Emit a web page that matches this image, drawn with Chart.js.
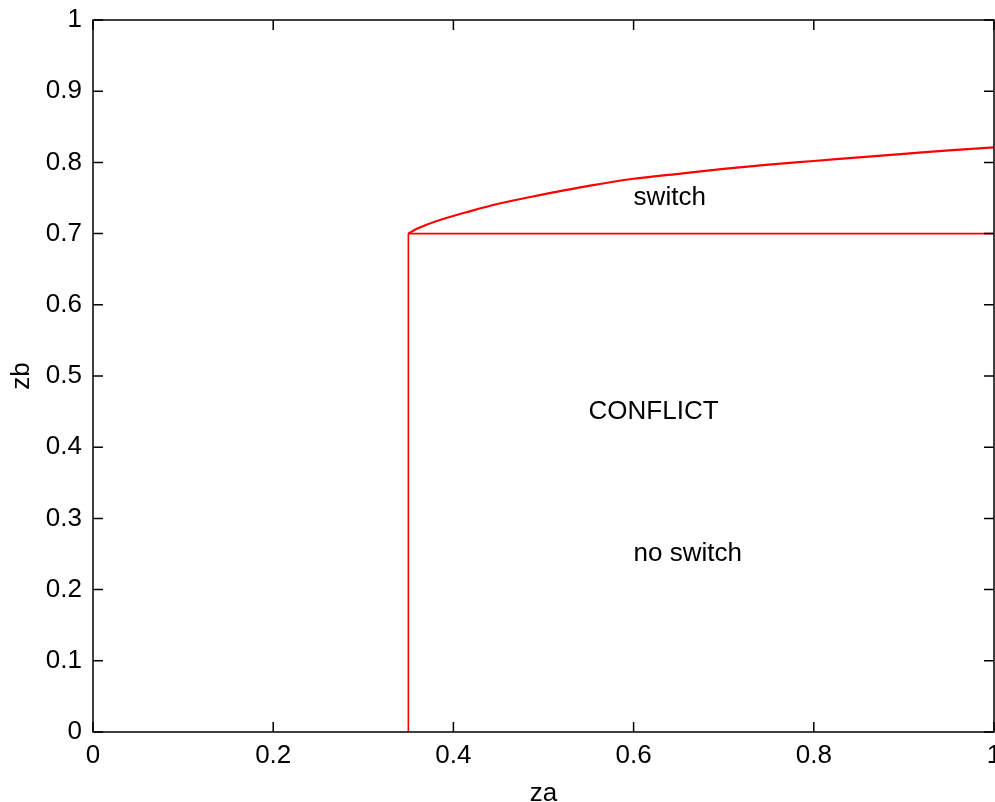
<!DOCTYPE html>
<html>
<head>
<meta charset="utf-8">
<script src="https://cdn.jsdelivr.net/npm/chart.js@4"></script>
<style>
  html, body { margin: 0; padding: 0; background: #fff; }
  #wrap { width: 995px; height: 802px; }
</style>
</head>
<body>
<div id="wrap"><canvas id="c" width="995" height="802"></canvas></div>
<script>
// Data
const xTicks = [0, 0.2, 0.4, 0.6, 0.8, 1];
const yTicks = [0, 0.1, 0.2, 0.3, 0.4, 0.5, 0.6, 0.7, 0.8, 0.9, 1];
const verticalX = [0.35, 0.35];
const verticalY = [0, 0.7];
const horizontalX = [0.35, 1];
const horizontalY = [0.7, 0.7];
const curveX = [0.35, 0.36, 0.38, 0.42, 0.45, 0.5, 0.55, 0.6, 0.65, 0.7, 0.75, 0.8, 0.85, 0.9, 0.95, 1.0];
const curveY = [0.700, 0.707, 0.717, 0.732, 0.742, 0.755, 0.767, 0.777, 0.784, 0.791, 0.797, 0.802, 0.807, 0.812, 0.817, 0.821];
const labelTexts = ['switch', 'CONFLICT', 'no switch'];
const labelX = [0.6, 0.55, 0.6];
const labelY = [0.75, 0.45, 0.25];

const toPts = (xs, ys) => xs.map((x, i) => ({x: x, y: ys[i]}));
const FONT = '"Liberation Sans", Arial, sans-serif';

const framePlugin = {
  id: 'frame',
  afterDatasetsDraw(chart) {
    const {ctx, chartArea: a, scales} = chart;
    ctx.save();
    ctx.strokeStyle = '#000';
    ctx.lineWidth = 1.5;
    ctx.beginPath();
    ctx.rect(a.left, a.top, a.right - a.left, a.bottom - a.top);
    ctx.stroke();
    const len = 10;
    ctx.lineWidth = 1.5;
    ctx.beginPath();
    scales.x.ticks.forEach((t) => {
      const px = scales.x.getPixelForValue(t.value);
      ctx.moveTo(px, a.bottom); ctx.lineTo(px, a.bottom - len);
      ctx.moveTo(px, a.top); ctx.lineTo(px, a.top + len);
    });
    scales.y.ticks.forEach((t) => {
      const py = scales.y.getPixelForValue(t.value);
      ctx.moveTo(a.left, py); ctx.lineTo(a.left + len, py);
      ctx.moveTo(a.right, py); ctx.lineTo(a.right - len, py);
    });
    ctx.stroke();
    // text labels
    ctx.fillStyle = '#000';
    ctx.font = '26px ' + FONT;
    ctx.textAlign = 'left';
    ctx.textBaseline = 'middle';
    labelTexts.forEach((s, i) => {
      ctx.fillText(s, scales.x.getPixelForValue(labelX[i]), scales.y.getPixelForValue(labelY[i]));
    });
    ctx.restore();
  }
};

new Chart(document.getElementById('c'), {
  type: 'scatter',
  data: {
    datasets: [
      { data: toPts(verticalX, verticalY), showLine: true, borderColor: '#ff0000', borderWidth: 1.6, pointRadius: 0, tension: 0 },
      { data: toPts(horizontalX, horizontalY), showLine: true, borderColor: '#ff0000', borderWidth: 1.6, pointRadius: 0, tension: 0 },
      { data: toPts(curveX, curveY), showLine: true, borderColor: '#ff0000', borderWidth: 2.2, pointRadius: 0, cubicInterpolationMode: 'monotone', tension: 0.4 }
    ]
  },
  options: {
    responsive: false,
    animation: false,
    events: [],
    layout: { padding: { left: 0, right: 1, top: 20, bottom: 0 } },
    plugins: { legend: { display: false }, tooltip: { enabled: false } },
    scales: {
      x: {
        type: 'linear', min: 0, max: 1,
        afterBuildTicks(s) { s.ticks = xTicks.map(v => ({value: v})); },
        afterFit(s) { s.height = 70; s.paddingLeft = 0; s.paddingRight = 0; },
        grid: { display: false, drawTicks: false },
        border: { display: false },
        ticks: { color: '#000', font: { family: FONT, size: 26 }, padding: 8, maxRotation: 0, autoSkip: false,
                 callback: v => String(v) },
        title: { display: true, text: 'za', color: '#000', font: { family: FONT, size: 26, lineHeight: 0.6 }, padding: { top: 0, bottom: 0 } }
      },
      y: {
        type: 'linear', min: 0, max: 1,
        afterBuildTicks(s) { s.ticks = yTicks.map(v => ({value: v})); },
        afterFit(s) { s.width = 93; s.paddingTop = 0; s.paddingBottom = 0; },
        grid: { display: false, drawTicks: false },
        border: { display: false },
        ticks: { color: '#000', font: { family: FONT, size: 26 }, padding: 11, autoSkip: false,
                 callback: v => String(v) },
        title: { display: true, text: 'zb', color: '#000', font: { family: FONT, size: 26 }, padding: { top: 6, bottom: 0 } }
      }
    }
  },
  plugins: [framePlugin]
});
</script>
</body>
</html>
